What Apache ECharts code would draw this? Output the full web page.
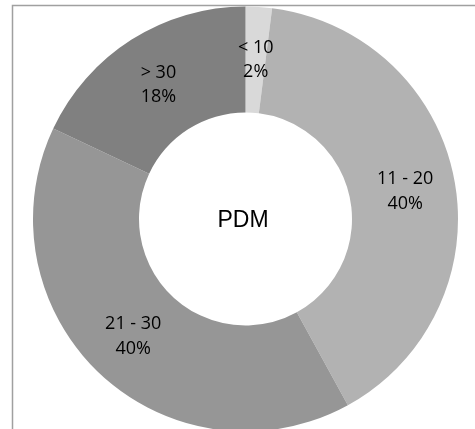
<!DOCTYPE html>
<html>
<head>
<meta charset="utf-8">
<script src="https://cdn.jsdelivr.net/npm/echarts@6/dist/echarts.min.js"></script>
<style>
  html, body { margin: 0; padding: 0; background: #ffffff; }
  #chart { width: 475px; height: 429px; }
</style>
</head>
<body>
<div id="chart"></div>
<script>
// Age groups and their share (%) of the PDM sample
const categories = ['< 10', '11 - 20', '21 - 30', '> 30'];
const shares = [2, 40, 40, 18];
const sliceColors = ['#d9d9d9', '#b2b2b2', '#969696', '#808080'];
const centerTitle = 'PDM';

const chart = echarts.init(document.getElementById('chart'), null, { renderer: 'canvas' });

chart.setOption({
  backgroundColor: '#ffffff',
  animation: false,
  graphic: [
    {
      // plot-area frame; its right and bottom edges run off the canvas
      type: 'rect',
      shape: { x: 12.5, y: 5.5, width: 600, height: 600 },
      style: { fill: 'none', stroke: '#a0a0a0', lineWidth: 1.5 },
      z: -1
    },
    {
      type: 'text',
      x: 243,
      y: 221,
      style: {
        text: centerTitle,
        font: '23px "Liberation Sans", Arial, sans-serif',
        fill: '#000000',
        align: 'center',
        verticalAlign: 'middle'
      }
    }
  ],
  series: [
    {
      type: 'pie',
      center: [245.5, 219],
      radius: [106.5, 212.5],
      startAngle: 90,
      clockwise: true,
      avoidLabelOverlap: false,
      percentPrecision: 0,
      label: {
        show: true,
        position: 'inside',
        formatter: '{b}\n{d}%',
        fontFamily: '"Open Sans", Lato, sans-serif',
        fontSize: 18,
        lineHeight: 24.5,
        color: '#000000',
        align: 'center',
        offset: [0, 3]
      },
      labelLine: { show: false },
      itemStyle: { borderWidth: 0 },
      emphasis: { disabled: true },
      data: categories.map((name, i) => ({
        name: name,
        value: shares[i],
        itemStyle: { color: sliceColors[i] },
        label: i === 2 ? { offset: [-1, -1] } : undefined
      }))
    }
  ]
});
</script>
</body>
</html>
